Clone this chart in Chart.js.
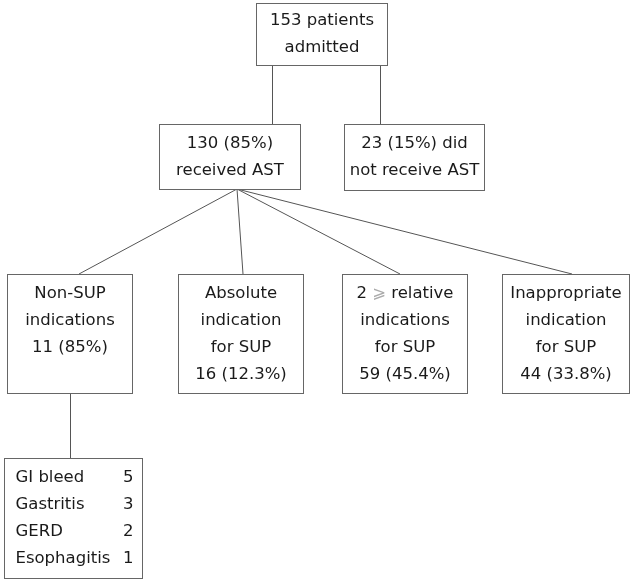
<!DOCTYPE html>
<html>
<head>
<meta charset="utf-8">
<script src="https://cdn.jsdelivr.net/npm/chart.js@4/dist/chart.umd.min.js"></script>
<style>
  body { margin: 0; background: #fff; }
  canvas { display: block; }
</style>
</head>
<body>
<canvas id="flow" width="630" height="588"></canvas>
<script>
// flowchart content
let nodeTexts = [
    ['153 patients', 'admitted'],
    ['130 (85%)', 'received AST'],
    ['23 (15%) did', 'not receive AST'],
    ['Non-SUP', 'indications', '11 (85%)'],
    ['Absolute', 'indication', 'for SUP', '16 (12.3%)'],
    ['2 \u2A7E relative', 'indications', 'for SUP', '59 (45.4%)'],
    ['Inappropriate', 'indication', 'for SUP', '44 (33.8%)']
];
let nonSupCauses = ['GI bleed', 'Gastritis', 'GERD', 'Esophagitis'];
let nonSupCounts = [5, 3, 2, 1];
// parent -> child links (node index)
let edgeFrom = [0, 0, 1, 1, 1, 1, 3];
let edgeTo = [1, 2, 3, 4, 5, 6, 7];

// layout, in axis units (x: 0..630, y: 0..588 top-down)
let boxes = [
    { x0: 256, x1: 387, y0: 3, y1: 65 },
    { x0: 159, x1: 300, y0: 124, y1: 189 },
    { x0: 344, x1: 484, y0: 124, y1: 190 },
    { x0: 7, x1: 132, y0: 274, y1: 393, top: true },
    { x0: 178, x1: 303, y0: 274, y1: 393, top: true },
    { x0: 342, x1: 467, y0: 274, y1: 393, top: true },
    { x0: 502, x1: 629, y0: 274, y1: 393, top: true },
    { x0: 4, x1: 142, y0: 458, y1: 578 }
];
// where each link leaves its parent and enters its child
let edgeStart = [[272.5, 65], [380.5, 65], [237, 189], [237, 189], [237, 189], [237, 189], [70.5, 393]];
let edgeEnd = [[272.5, 124], [380.5, 124], [79, 274], [243, 274], [400, 274], [572, 274], [70.5, 458]];

let lineHeight = 27;
let fontSpec = '16.5px "DejaVu Sans", Verdana, sans-serif';

let edgeSets = edgeFrom.map(function (f, i) {
    return {
        type: 'line',
        data: [
            { x: edgeStart[i][0], y: edgeStart[i][1] },
            { x: edgeEnd[i][0], y: edgeEnd[i][1] }
        ],
        borderColor: '#555',
        borderWidth: 1,
        pointRadius: 0,
        fill: false
    };
});

let boxPlugin = {
    id: 'boxes',
    afterDatasetsDraw: function (chart) {
        let ctx = chart.ctx;
        let sx = chart.scales.x, sy = chart.scales.y;
        ctx.save();
        ctx.font = fontSpec;
        ctx.textBaseline = 'middle';
        boxes.forEach(function (b, i) {
            let x0 = Math.round(sx.getPixelForValue(b.x0)) + 0.5;
            let x1 = Math.round(sx.getPixelForValue(b.x1)) + 0.5;
            let y0 = Math.round(sy.getPixelForValue(b.y0)) + 0.5;
            let y1 = Math.round(sy.getPixelForValue(b.y1)) + 0.5;
            ctx.fillStyle = '#fff';
            ctx.fillRect(x0, y0, x1 - x0, y1 - y0);
            ctx.strokeStyle = '#666';
            ctx.lineWidth = 1;
            ctx.strokeRect(x0, y0, x1 - x0, y1 - y0);

            let cx = (x0 + x1) / 2, cy = (y0 + y1) / 2;
            if (i < nodeTexts.length) {
                let lines = nodeTexts[i];
                // lower row boxes start their text at the top
                let top = b.top ? y0 + 19 : cy - (lines.length - 1) * lineHeight / 2;
                lines.forEach(function (t, k) {
                    let y = top + k * lineHeight;
                    let parts = t.split('\u2A7E');
                    if (parts.length === 1) {
                        ctx.textAlign = 'center';
                        ctx.fillStyle = '#1a1a1a';
                        ctx.fillText(t, cx, y);
                    } else {
                        // the sign is printed in a lighter grey
                        let w0 = ctx.measureText(parts[0]).width;
                        let ws = ctx.measureText('\u2A7E').width;
                        let w1 = ctx.measureText(parts[1]).width;
                        let left = cx - (w0 + ws + w1) / 2;
                        ctx.textAlign = 'left';
                        ctx.fillStyle = '#1a1a1a';
                        ctx.fillText(parts[0], left, y);
                        ctx.fillStyle = '#aaa';
                        ctx.fillText('\u2A7E', left + w0, y);
                        ctx.fillStyle = '#1a1a1a';
                        ctx.fillText(parts[1], left + w0 + ws, y);
                    }
                });
            } else {
                let top = cy - (nonSupCauses.length - 1) * lineHeight / 2;
                nonSupCauses.forEach(function (c, k) {
                    let y = top + k * lineHeight;
                    ctx.fillStyle = '#1a1a1a';
                    ctx.textAlign = 'left';
                    ctx.fillText(c, x0 + 11, y);
                    ctx.textAlign = 'right';
                    ctx.fillText(String(nonSupCounts[k]), x1 - 9, y);
                });
            }
        });
        ctx.restore();
    }
};

let chart = new Chart(document.getElementById('flow').getContext('2d'), {
    type: 'scatter',
    data: { datasets: edgeSets },
    options: {
        responsive: false,
        animation: false,
        layout: { padding: 0 },
        plugins: { legend: { display: false }, tooltip: { enabled: false } },
        scales: {
            x: { type: 'linear', min: 0, max: 630, display: false },
            y: { type: 'linear', min: 0, max: 588, reverse: true, display: false }
        }
    },
    plugins: [boxPlugin]
});
</script>
</body>
</html>
